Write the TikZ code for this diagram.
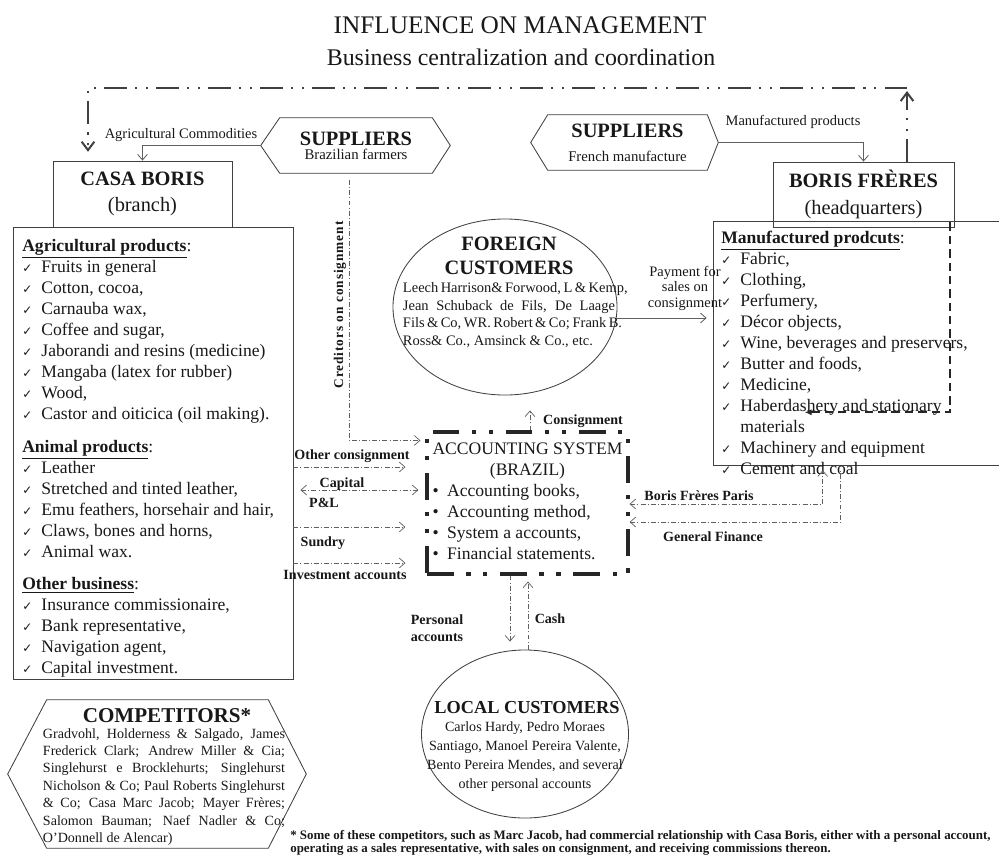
\documentclass[tikz,border=0pt]{standalone}
\usepackage{fontspec}
\setmainfont{Liberation Serif}
\newfontfamily\checkfont{DejaVu Sans}
\usepackage{tikz}
\usetikzlibrary{arrows.meta,positioning,calc,shapes.geometric}
\definecolor{linegray}{RGB}{64,64,64}
\definecolor{flowgray}{RGB}{96,96,96}
\definecolor{textgray}{RGB}{24,24,24}

\newcommand{\chk}{{\checkfont\fontsize{8.5}{8.5}\selectfont ✓}\hspace{6.5pt}}
\newcommand{\listhead}[1]{\underline{\textbf{#1}}}
\newcommand{\jline}[2]{\makebox[#1][s]{#2}}

\begin{document}
\begin{tikzpicture}[
x=0.025cm, y=-0.025cm,
>={Straight Barb[length=4pt,width=7pt]},
every node/.style={text=textgray},
headbox/.style={rectangle, draw=linegray, line width=0.6pt, align=center, font=\fontsize{14.5}{19}\selectfont},
listbox/.style={rectangle, align=left, inner sep=0pt, font=\fontsize{12.5}{14.9}\selectfont},
hexnode/.style={rectangle, inner sep=0pt, align=center},
shapeline/.style={draw=linegray, line width=0.6pt},
headtext/.style={font=\bfseries\fontsize{14.5}{17}\selectfont, align=center, inner sep=0pt},
nametext/.style={font=\fontsize{10}{12.4}\selectfont, align=left, inner sep=0pt},
flowlabel/.style={font=\bfseries\fontsize{10}{12}\selectfont, inner sep=0pt},
plainlabel/.style={font=\fontsize{10.3}{11}\selectfont, inner sep=0pt},
flow/.style={draw=flowgray, line width=0.5pt, dash pattern=on 3.5pt off 1.5pt on 0.7pt off 1.5pt},
solidflow/.style={draw=flowgray, line width=0.6pt},
topflow/.style={draw=linegray, line width=1.4pt, dash pattern=on 16pt off 6pt on 1.5pt off 6pt on 1.5pt off 6pt},
hqflow/.style={draw=black!85, line width=1.4pt, dash pattern=on 6pt off 3.5pt},
accline/.style={draw=black!85, line width=2.2pt, dash pattern=on 19pt off 9pt on 3pt off 9pt on 3pt off 9pt}
]

\useasboundingbox (0,0) rectangle (999,856);

% Title

\node[font=\fontsize{18}{21}\selectfont] (title) at (520,25) {INFLUENCE ON MANAGEMENT};

\node[font=\fontsize{17}{20}\selectfont] (subtitle) at (521,57) {Business centralization and coordination};

% Casa Boris (branch)

\node[headbox, minimum width=4.475cm, minimum height=1.65cm] (casa) at (142.5,194) {\textbf{CASA BORIS}\\(branch)};

\node[rectangle, draw=linegray, line width=0.6pt, minimum width=7cm, minimum height=11.3cm] (agri) at (153,453) {};

\node[listbox, anchor=north west] (agrilist) at (22,239) {%
\listhead{Agricultural products}:\\
\chk Fruits in general\\
\chk Cotton, cocoa,\\
\chk Carnauba wax,\\
\chk Coffee and sugar,\\
\chk Jaborandi and resins (medicine)\\
\chk Mangaba (latex for rubber)\\
\chk Wood,\\
\chk Castor and oiticica (oil making).\\[9pt]
\listhead{Animal products}:\\
\chk Leather\\
\chk Stretched and tinted leather,\\
\chk Emu feathers, horsehair and hair,\\
\chk Claws, bones and horns,\\
\chk Animal wax.\\[8pt]
\listhead{Other business}:\\
\chk Insurance commissionaire,\\
\chk Bank representative,\\
\chk Navigation agent,\\
\chk Capital investment.};

% Boris Freres (headquarters)

\node[rectangle, inner sep=0pt, minimum width=7.125cm, minimum height=6.075cm] (manubox) at (856.5,343.5) {};
\draw[shapeline] (manubox.north east) -- (manubox.north west) -- (manubox.south west) -- (manubox.south east);

\node[headbox, minimum width=4.525cm, minimum height=1.625cm] (bf) at (863.5,194.5) {\textbf{BORIS FRÈRES}\\(headquarters)};

\node[listbox, anchor=north west] (manulist) at (721,231) {%
\listhead{Manufactured prodcuts}:\\
\chk Fabric,\\
\chk Clothing,\\
\chk Perfumery,\\
\chk Décor objects,\\
\chk Wine, beverages and preservers,\\
\chk Butter and foods,\\
\chk Medicine,\\
\chk Haberdashery and stationary\\
\hphantom{\chk}materials\\
\chk Machinery and equipment\\
\chk Cement and coal};

\draw[hqflow, -{Latex[length=5pt,width=4.5pt]}] ($(bf.south east)+(-4,-5)$) |- ($(manubox.south west)+(91,-53)$);

% Suppliers

\node[hexnode, minimum width=3.8cm, minimum height=1.375cm, font=\fontsize{10.5}{10}\selectfont] (supbr) at (356,145.5) {{\bfseries\fontsize{14.5}{15}\selectfont SUPPLIERS}\\Brazilian farmers};
\draw[shapeline] (supbr.north west) -- (supbr.north east) -- ($(supbr.east)+(18,0)$) -- (supbr.south east) -- (supbr.south west) -- ($(supbr.west)+(-19,0)$) -- cycle;

\node[hexnode, minimum width=3.975cm, minimum height=1.375cm, font=\fontsize{10.5}{10}\selectfont] (supfr) at (627.5,142.5) {{\bfseries\fontsize{14.5}{15}\selectfont SUPPLIERS}\\[7pt]French manufacture};
\draw[shapeline] (supfr.north west) -- (supfr.north east) -- ($(supfr.east)+(11,0)$) -- (supfr.south east) -- (supfr.south west) -- ($(supfr.west)+(-17,0)$) -- cycle;

\draw[solidflow, ->] ($(supbr.west)+(-19,0)$) -| (casa.north);
\node[plainlabel] (agcom) at (181,135) {Agricultural Commodities};

\draw[solidflow, ->] ($(supfr.east)+(11,0)$) -| (bf.north);
\node[plainlabel] (manprod) at (793,122) {Manufactured products};

% Management link between the two houses

\coordinate (topL) at (88,88);
\coordinate (topR) at (907,88);
\draw[topflow, -{Straight Barb[length=6pt,width=9pt]}, shorten >=0.22cm] (topR) -- (topL) -- (topL |- casa.north);
\draw[topflow, -{Straight Barb[length=6pt,width=9pt]}] (topR |- bf.north) -- ($(topR)+(0,3)$);

% Foreign customers

\node[ellipse, draw=linegray, line width=0.6pt, minimum width=5.6cm, minimum height=4.4cm, inner sep=0pt] (foreign) at (505,307) {};

\node[headtext] (foreignhead) at (509,256) {FOREIGN\\CUSTOMERS};

\node[nametext, font=\fontsize{10.3}{12.6}\selectfont] (foreignlist) at (509,315) {%
\jline{5.3cm}{Leech Harrison\& Forwood, L \& Kemp,}\\
\jline{5.3cm}{Jean Schuback de Fils, De Laage}\\
\jline{5.3cm}{Fils \& Co, WR. Robert \& Co; Frank B.}\\
\makebox[5.3cm][l]{Ross\& Co., Amsinck \& Co., etc.}};

\draw[solidflow, ->] ($(foreign.east)+(0,11)$) -- ($(foreign.east -| manubox.west)+(-7,11)$);
\node[plainlabel, align=center] (payment) at (685,288) {Payment for\\sales on\\consignment};

% Accounting system (Brazil)

\node[rectangle, accline, minimum width=5.025cm, minimum height=3.55cm, inner sep=0pt, font=\fontsize{12.5}{15}\selectfont] (acc) at (527.5,503) {%
\begin{tabular}{@{}l@{\hspace{6pt}}l@{}}
\multicolumn{2}{@{}c@{}}{ACCOUNTING SYSTEM}\\
\multicolumn{2}{@{}c@{}}{(BRAZIL)}\\
\textbullet & Accounting books,\\
\textbullet & Accounting method,\\
\textbullet & System a accounts,\\
\textbullet & Financial statements.
\end{tabular}};

\draw[flow, ->] ($(supbr.south)+(-7,7)$) |- ($(acc.north west)+(-5,10)$);
\node[font=\bfseries\fontsize{9.5}{11}\selectfont\addfontfeature{LetterSpace=7}, rotate=90, inner sep=0pt] (creditors) at (340,305) {Creditors on consignment};

\draw[flow, ->] ($(acc.north)+(2.5,0)$) -- ($(acc.north |- foreign.south)+(2.5,15)$);
\node[flowlabel] (consign) at (583,421) {Consignment};

% Flows from the branch

\draw[flow, ->] ($(acc.west -| agri.east)+(0,-36)$) -- ($(acc.west)+(-20,-36)$);
\node[flowlabel] (othercons) at (352,456) {Other consignment};

\draw[flow, <->] ($(acc.west -| agri.east)+(7,-13)$) -- ($(acc.west)+(-7,-13)$);
\node[flowlabel] (capital) at (342,484) {Capital};
\node[flowlabel] (pl) at (324,503) {P\&L};

\draw[flow, ->] ($(acc.west -| agri.east)+(0,24)$) -- ($(acc.west)+(-20,24)$);
\node[flowlabel] (sundry) at (323,543) {Sundry};

\draw[flow, ->] ($(acc.west -| agri.east)+(0,60)$) -- ($(acc.west)+(-20,60)$);
\node[flowlabel] (invest) at (345,575) {Investment accounts};

% Flows from headquarters

\draw[flow, <->] ($(acc.east)+(0,1)$) -| ($(manubox.south west)+(109,5)$);
\node[flowlabel] (bfparis) at (699,496) {Boris Frères Paris};

\draw[flow, <-] ($(acc.east)+(0,19)$) -| ($(manubox.south west)+(127,5)$);
\node[flowlabel] (genfin) at (713,537) {General Finance};

% Local customers

\node[ellipse, draw=linegray, line width=0.6pt, minimum width=5.175cm, minimum height=4.2cm, inner sep=0pt] (local) at (525,734) {};

\node[headtext, font=\bfseries\fontsize{13}{15}\selectfont] (localhead) at (527,708) {LOCAL CUSTOMERS};

\node[nametext, align=center, font=\fontsize{10}{13.5}\selectfont] (locallist) at (525,757) {Carlos Hardy, Pedro Moraes\\Santiago, Manoel Pereira Valente,\\Bento Pereira Mendes, and several\\other personal accounts};

\coordinate (persx) at ($(acc.south)+(-17.5,0)$);
\coordinate (cashx) at ($(acc.south)+(0.5,0)$);
\draw[flow, ->] (persx) -- ($(persx |- local.north)+(0,-8)$);
\draw[flow, ->] (cashx |- local.north) -- ($(cashx)+(0,6)$);
\node[flowlabel, align=left] (persacc) at (437,628) {Personal\\accounts};
\node[flowlabel] (cash) at (550,619) {Cash};

% Competitors

\node[hexnode, minimum width=5.525cm, minimum height=3.7cm] (comp) at (157.5,774) {};
\draw[shapeline] (comp.north west) -- (comp.north east) -- ($(comp.east)+(38,0)$) -- (comp.south east) -- (comp.south west) -- ($(comp.west)+(-39,0)$) -- cycle;

\node[headtext, font=\bfseries\fontsize{15}{17}\selectfont] (comphead) at (167,716) {COMPETITORS*};

\node[nametext, font=\fontsize{10}{12.4}\selectfont] (complist) at (164,787) {%
\jline{6.05cm}{Gradvohl, Holderness \& Salgado, James}\\
\jline{6.05cm}{Frederick Clark; Andrew Miller \& Cia;}\\
\jline{6.05cm}{Singlehurst e Brocklehurts; Singlehurst}\\
\jline{6.05cm}{Nicholson \& Co; Paul Roberts Singlehurst}\\
\jline{6.05cm}{\& Co; Casa Marc Jacob; Mayer Frères;}\\
\jline{6.05cm}{Salomon Bauman; Naef Nadler \& Co;}\\
\makebox[6.05cm][l]{O'Donnell de Alencar)}};

\node[font=\bfseries\fontsize{9.2}{9.5}\selectfont, align=left, anchor=west, inner sep=0pt] (footnote) at (290,843) {* Some of these competitors, such as Marc Jacob, had commercial relationship with Casa Boris, either with a personal account,\\operating as a sales representative, with sales on consignment, and receiving commissions thereon.};

\end{tikzpicture}
\end{document}
